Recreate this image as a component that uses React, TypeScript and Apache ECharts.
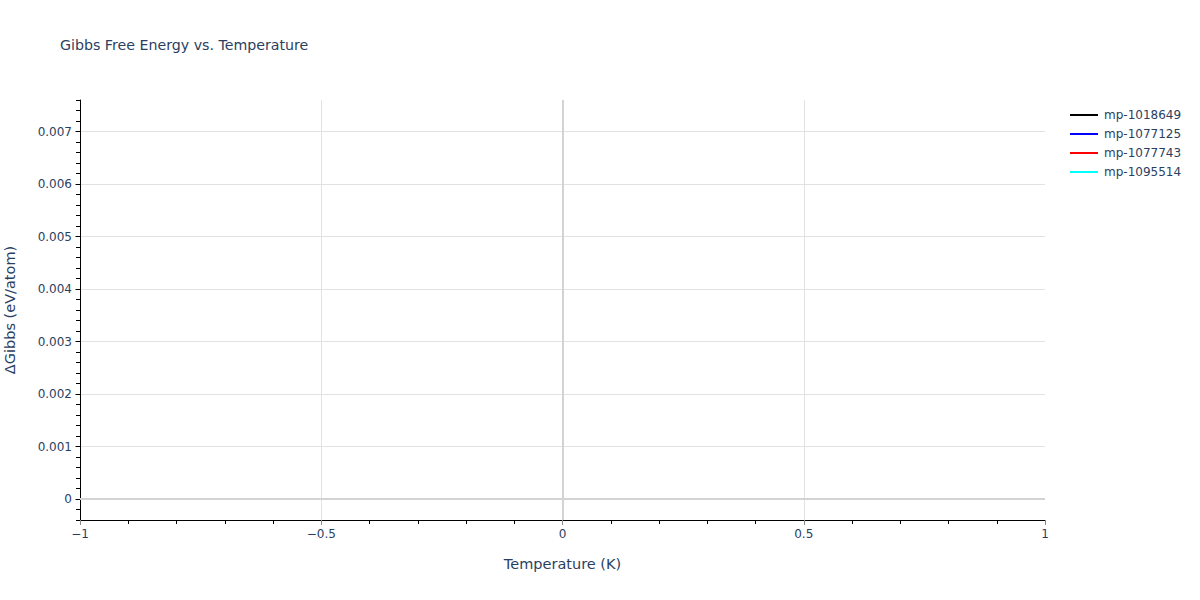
import React, { useEffect, useRef } from "react";
import * as echarts from "echarts";

const seriesNames = ["mp-1018649", "mp-1077125", "mp-1077743", "mp-1095514"];
const seriesColors = ["#000000", "#0000ff", "#ff0000", "#00ffff"];
const temperatures = [0];
const gibbs1018649 = [0];
const gibbs1077125 = [0];
const gibbs1077743 = [0];
const gibbs1095514 = [0];
const seriesValues = [gibbs1018649, gibbs1077125, gibbs1077743, gibbs1095514];

const xTicks = [-1, -0.5, 0, 0.5, 1];
const yTicks = [0, 0.001, 0.002, 0.003, 0.004, 0.005, 0.006, 0.007];
const yMin = -0.0004;
const yMax = 0.0076;
const xMin = -1;
const xMax = 1;

const FONT = "Verdana, 'DejaVu Sans', sans-serif";
const TXT = "#2a3f5f";

export default function App() {
  const ref = useRef<HTMLDivElement>(null);
  useEffect(() => {
    if (!ref.current) return;
    const chart = echarts.init(ref.current, undefined, { renderer: "svg" });
    const series: any[] = seriesNames.map((name, i) => ({
      name,
      type: "line",
      xAxisIndex: 0,
      yAxisIndex: 0,
      data: temperatures.map((t, j) => [t, seriesValues[i][j]]),
      showSymbol: false,
      lineStyle: { color: seriesColors[i], width: 2 },
      itemStyle: { color: seriesColors[i] },
      z: 3,
    }));
    series.push({
      name: "zero",
      type: "line",
      data: [],
      xAxisIndex: 0,
      yAxisIndex: 0,
      markLine: {
        silent: true,
        symbol: "none",
        label: { show: false },
        lineStyle: { color: "#d3d3d3", width: 2, type: "solid" },
        data: [{ yAxis: 0 }, { xAxis: 0 }],
        z: 1,
      },
    });
    chart.setOption({
      animation: false,
      backgroundColor: "#ffffff",
      textStyle: { fontFamily: FONT },
      title: {
        text: "Gibbs Free Energy vs. Temperature",
        left: 60,
        top: 38,
        padding: 0,
        textStyle: { fontFamily: FONT, fontSize: 14.2, fontWeight: "normal", color: TXT },
      },
      legend: {
        orient: "vertical",
        left: 1070,
        top: 109,
        padding: 0,
        icon: "rect",
        itemWidth: 28,
        itemHeight: 2,
        itemGap: 7,
        data: seriesNames,
        textStyle: { fontFamily: FONT, fontSize: 12, color: TXT, padding: [0, 0, 0, 1] },
      },
      grid: { left: 80, right: 155, top: 100, bottom: 80, containLabel: false, outerBoundsMode: "none" },
      xAxis: [
        {
          type: "value",
          min: xMin,
          max: xMax,
          interval: 0.5,
          name: "Temperature (K)",
          nameLocation: "middle",
          nameGap: 36,
          nameTextStyle: { fontFamily: FONT, fontSize: 14.5, color: TXT },
          axisLine: { onZero: false, lineStyle: { color: "#000", width: 1 } },
          axisTick: { show: true, length: 5, lineStyle: { color: "#888" } },
          minorTick: { show: true, splitNumber: 5, length: 4, lineStyle: { color: "#000" } },
          axisLabel: {
            margin: 8,
            fontFamily: FONT,
            fontSize: 12,
            color: TXT,
            customValues: xTicks,
            formatter: (v: number) => (v < 0 ? "\u2212" + Math.abs(v) : String(v)),
          },
          splitLine: { show: true, showMinLine: false, showMaxLine: false, lineStyle: { color: "#e2e2e2", width: 1 } },
        },
      ],
      yAxis: [
        {
          type: "value",
          min: yMin,
          max: yMax,
          position: "left",
          name: "\u0394Gibbs (eV/atom)",
          nameLocation: "middle",
          nameGap: 63,
          nameTextStyle: { fontFamily: FONT, fontSize: 14.5, color: TXT },
          axisLine: { show: true, onZero: false, lineStyle: { color: "#000", width: 1 } },
          axisTick: { show: true, length: 5, customValues: yTicks, lineStyle: { color: "#888" } },
          axisLabel: {
            margin: 8,
            fontFamily: FONT,
            fontSize: 12,
            color: TXT,
            customValues: yTicks,
            formatter: (v: number) => (Math.abs(v) < 1e-12 ? "0" : v.toFixed(3)),
          },
          splitLine: { show: true, lineStyle: { color: "#e2e2e2", width: 1 } },
        },
        {
          type: "value",
          min: yMin,
          max: yMax,
          interval: 0.0002,
          position: "left",
          offset: 0,
          axisLine: { show: false, onZero: false },
          axisTick: { show: true, length: 4, lineStyle: { color: "#000" } },
          axisLabel: { show: false },
          splitLine: { show: false },
        },
      ],
      series,
    });
    return () => chart.dispose();
  }, []);
  return <div ref={ref} style={{ width: 1200, height: 600, position: "absolute", left: 0, top: 0 }} />;
}
